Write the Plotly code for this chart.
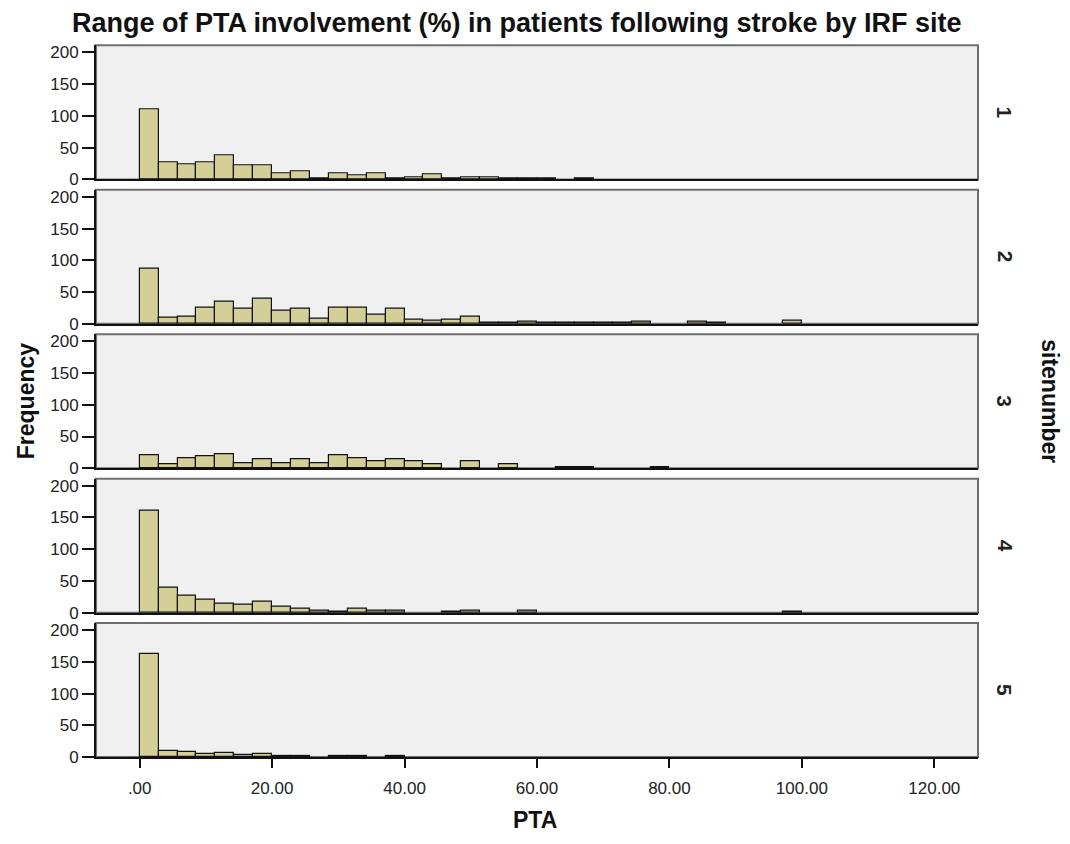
import plotly.graph_objects as go

# ---- data (counts per PTA bin, 35 bins spanning 0-100) ----
bin_count = 35
pta_min, pta_max = 0.0, 100.0
sites = ["1", "2", "3", "4", "5"]
site1 = [110, 27, 24, 27, 38, 22, 22, 10, 13, 2, 10, 6, 10, 2, 4, 8, 2, 4, 4, 2, 2, 2, 0, 2,
         0, 0, 0, 0, 0, 0, 0, 0, 0, 0, 0]
site2 = [86, 9, 11, 25, 34, 23, 39, 20, 23, 8, 25, 25, 14, 24, 6, 5, 6, 11, 1, 1, 3, 1, 1, 2,
         1, 1, 3, 0, 0, 4, 1, 0, 0, 0, 5]
site3 = [20, 7, 16, 19, 22, 8, 14, 8, 14, 8, 20, 16, 11, 14, 11, 6, 0, 11, 0, 6, 0, 0, 2, 2,
         0, 0, 0, 2, 0, 0, 0, 0, 0, 0, 0]
site4 = [160, 40, 27, 20, 15, 12, 18, 9, 7, 4, 2, 6, 3, 3, 0, 0, 2, 3, 0, 0, 3, 0, 0, 0,
         0, 0, 0, 0, 0, 0, 0, 0, 0, 0, 2]
site5 = [163, 10, 8, 5, 6, 3, 5, 2, 2, 0, 1, 1, 0, 2, 0, 0, 0, 0, 0, 0, 0, 0, 0, 0,
         0, 0, 0, 0, 0, 0, 0, 0, 0, 0, 0]
counts = [site1, site2, site3, site4, site5]
x_ticks = [0, 20, 40, 60, 80, 100, 120]
x_ticktext = [".00", "20.00", "40.00", "60.00", "80.00", "100.00", "120.00"]
y_ticks = [0, 50, 100, 150, 200]

# ---- layout constants ----
W, H = 1070, 844
FONT = "Arial, Liberation Sans, sans-serif"
bar_fill = "#D4CF97"
panel_bg = "#F0F0F0"
left_px, right_px = 96, 978
panel_tops = [44, 190.5, 337, 483.5, 630]
panel_h = 136

bw = (pta_max - pta_min) / bin_count
centers = [pta_min + bw * (i + 0.5) for i in range(bin_count)]

fig = go.Figure()
layout = dict(
    width=W, height=H, margin=dict(l=0, r=0, t=0, b=0),
    paper_bgcolor="white", plot_bgcolor=panel_bg, showlegend=False,
    bargap=0, font=dict(family=FONT, color="#222222", size=17),
)
shapes = []
annotations = []

for i, (s, c) in enumerate(zip(sites, counts)):
    n = i + 1
    xa = "x" if n == 1 else f"x{n}"
    ya = "y" if n == 1 else f"y{n}"
    yvals = [v if v > 0 else None for v in c]
    fig.add_trace(go.Bar(
        x=centers, y=yvals, width=bw, xaxis=xa, yaxis=ya,
        marker=dict(color=bar_fill, line=dict(color="#111111", width=1.2)),
        hoverinfo="x+y",
    ))
    top = panel_tops[i]
    y0 = 1 - (top + panel_h) / H
    y1 = 1 - top / H
    last = (n == len(sites))
    layout[f"xaxis{'' if n == 1 else n}"] = dict(
        domain=[left_px / W, right_px / W], range=[-6.6, 126.6],
        anchor=ya, showgrid=False, zeroline=False,
        showline=True, linecolor="#111111", linewidth=2,
        tickvals=x_ticks, ticktext=x_ticktext,
        showticklabels=last, ticks="outside" if last else "",
        ticklen=9, tickwidth=2, tickcolor="#111111", ticklabelstandoff=5,
        tickfont=dict(size=17, family=FONT, color="#222222"),
        matches=None if n == 1 else "x",
    )
    layout[f"yaxis{'' if n == 1 else n}"] = dict(
        domain=[y0, y1], range=[0, 211], anchor=xa,
        showgrid=False, zeroline=False,
        showline=True, linecolor="#111111", linewidth=2,
        tickvals=y_ticks, ticks="outside", ticklen=12, tickwidth=2, tickcolor="#111111",
        tickfont=dict(size=17, family=FONT, color="#222222"),
    )
    shapes.append(dict(
        type="rect", xref="paper", yref="paper",
        x0=left_px / W, x1=right_px / W, y0=y0, y1=y1,
        line=dict(color="#6E6E6E", width=2), fillcolor="rgba(0,0,0,0)", layer="below",
    ))
    annotations.append(dict(
        text=f"<b>{s}</b>", xref="paper", yref="paper",
        x=1005 / W, y=(y0 + y1) / 2, xanchor="center", yanchor="middle",
        showarrow=False, textangle=90,
        font=dict(size=21, family=FONT, color="#222222"),
    ))

annotations += [
    dict(text="<b>Range of PTA involvement (%) in patients following stroke by IRF site</b>",
         xref="paper", yref="paper", x=517 / W, y=1 - 21 / H, xanchor="center", yanchor="middle",
         showarrow=False, font=dict(size=27, family=FONT, color="#111111")),
    dict(text="<b>Frequency</b>", xref="paper", yref="paper", x=26 / W, y=1 - 405 / H,
         xanchor="center", yanchor="middle",
         showarrow=False, textangle=-90, font=dict(size=23, family=FONT, color="#111111")),
    dict(text="<b>sitenumber</b>", xref="paper", yref="paper", x=1050 / W, y=1 - 405 / H,
         xanchor="center", yanchor="middle",
         showarrow=False, textangle=90, font=dict(size=23, family=FONT, color="#111111")),
    dict(text="<b>PTA</b>", xref="paper", yref="paper", x=535 / W, y=1 - 830 / H,
         xanchor="center", yanchor="middle",
         showarrow=False, font=dict(size=23, family=FONT, color="#111111")),
]
layout["shapes"] = shapes
layout["annotations"] = annotations
fig.update_layout(**layout)
fig.write_html("out.html")
